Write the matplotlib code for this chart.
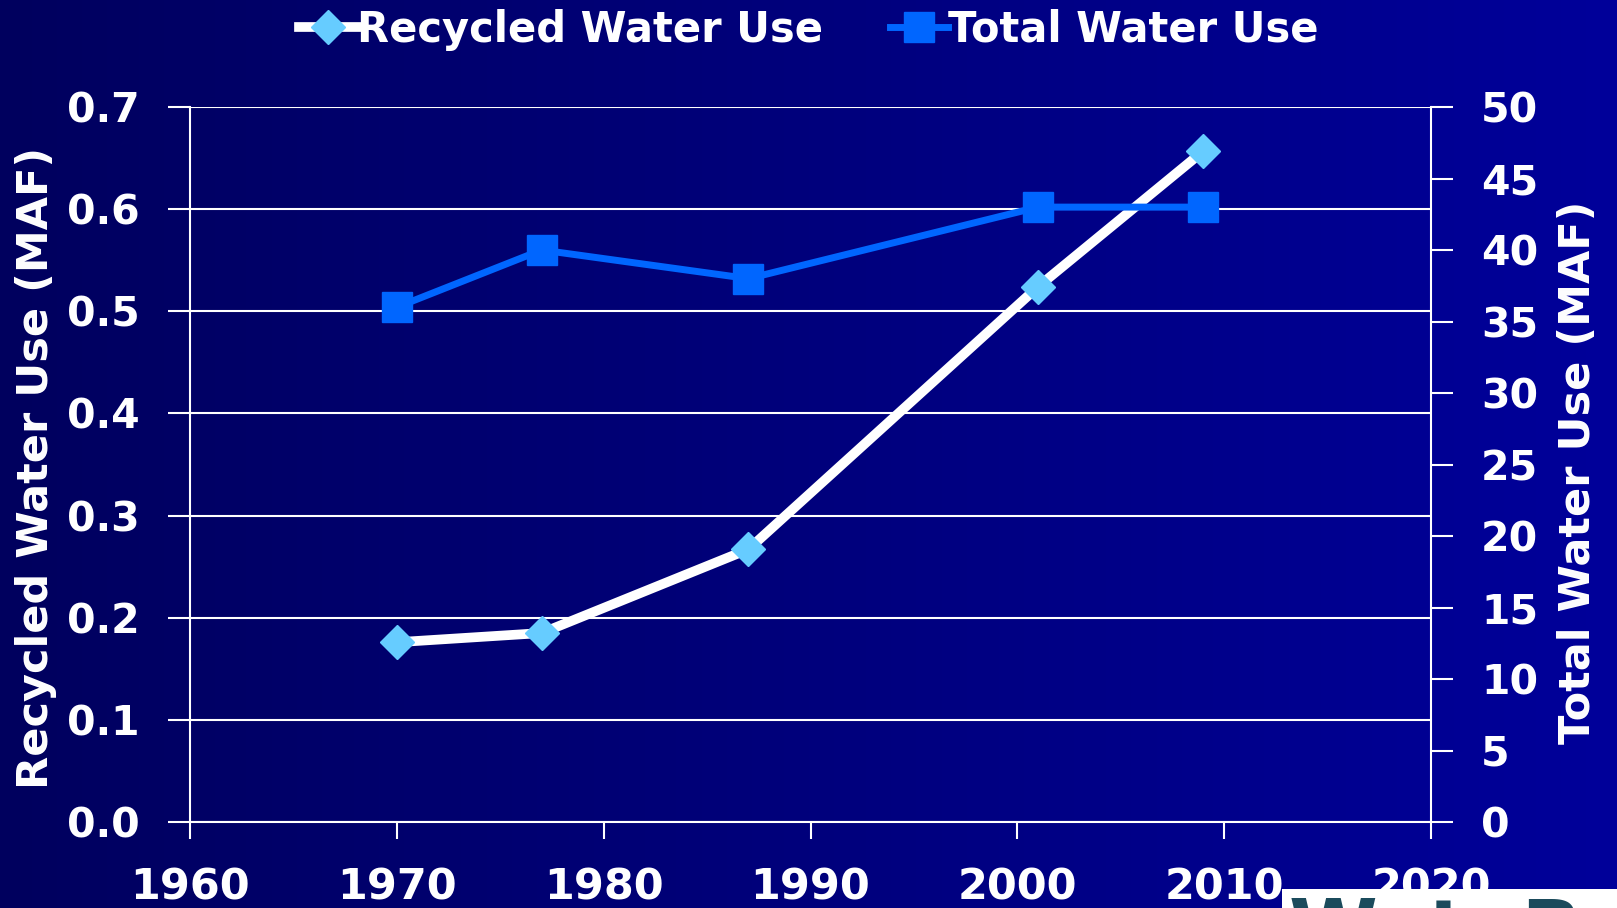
import numpy as np
import matplotlib
matplotlib.use("Agg")
import matplotlib.pyplot as plt
from matplotlib.patches import Rectangle

# data
years_rec = [1970, 1977, 1987, 2001, 2009]
recycled = [0.176, 0.185, 0.267, 0.524, 0.657]
years_tot = [1970, 1977, 1987, 2001, 2009]
total = [36.0, 40.0, 38.0, 43.0, 43.0]

xticks = [1960, 1970, 1980, 1990, 2000, 2010, 2020]
left_ticks = [0.0, 0.1, 0.2, 0.3, 0.4, 0.5, 0.6, 0.7]
right_ticks = [0, 5, 10, 15, 20, 25, 30, 35, 40, 45, 50]

W, H = 1617, 908
fig = plt.figure(figsize=(W / 100, H / 100), dpi=100)
fig.patch.set_facecolor("#000070")

# background gradient, dark navy on left to brighter blue on right
bg = fig.add_axes([0, 0, 1, 1], zorder=-10)
grad = np.linspace(0, 1, 256).reshape(1, -1)
c0 = np.array([0x00, 0x00, 0x5e]) / 255
c1 = np.array([0x00, 0x00, 0x9a]) / 255
img = c0[None, None, :] * (1 - grad[..., None]) + c1[None, None, :] * grad[..., None]
bg.imshow(img, aspect="auto", extent=[0, 1, 0, 1])
bg.axis("off")

white = "white"
ytickfont = dict(family="DejaVu Sans", weight="bold", size=29.5)
xtickfont = dict(family="DejaVu Sans", weight="bold", size=31)

ax = fig.add_axes([190 / W, 1 - 822 / H, (1431 - 190) / W, (822 - 107) / H])
ax.set_facecolor("none")
ax2 = ax.twinx()

l1, = ax.plot(years_rec, recycled, color="white", lw=7, marker="D", ms=17,
              mfc="#66ccff", mec="#66ccff", label="Recycled Water Use", zorder=3)
l2, = ax2.plot(years_tot, total, color="#0066ff", lw=5, marker="s", ms=21,
               mfc="#0066ff", mec="#0066ff", label="Total Water Use", zorder=4)

ax.set_xlim(1960, 2020)
ax.set_ylim(0, 0.7)
ax2.set_ylim(0, 50)
ax.set_xticks(xticks)
ax.set_yticks(left_ticks)
ax2.set_yticks(right_ticks)
ax.set_yticklabels([f"{v:.1f}" for v in left_ticks], fontdict=ytickfont)
ax2.set_yticklabels([str(v) for v in right_ticks], fontdict=ytickfont)
ax.set_xticklabels([str(v) for v in xticks], fontdict=xtickfont)

ax.grid(axis="y", color="white", lw=1.5)
ax.set_axisbelow(True)

for a in (ax, ax2):
    for s in a.spines.values():
        s.set_visible(False)
for a, side in ((ax, "left"), (ax, "bottom"), (ax2, "right")):
    a.spines[side].set_visible(True)
    a.spines[side].set_color(white)
    a.spines[side].set_linewidth(1.5)

ax.tick_params(axis="y", colors=white, length=16, width=1.5, pad=20)
ax.tick_params(axis="x", colors=white, length=12, width=1.5, pad=20)
ax2.tick_params(axis="y", colors=white, length=16, width=1.5, pad=20)

labfont = dict(family="DejaVu Sans", weight="bold", size=31, color=white)
fig.text(36 / W, 1 - 468 / H, "Recycled Water Use (MAF)", rotation=90,
         ha="center", va="center", **labfont)
fig.text(1578 / W, 1 - 472 / H, "Total Water Use (MAF)", rotation=90,
         ha="center", va="center", **labfont)

leg = fig.legend(handles=[l1, l2], loc="center", bbox_to_anchor=(0.5, 1 - 30 / H),
                 ncol=2, frameon=False, handlelength=1.4, handletextpad=0.0,
                 columnspacing=1.6, prop=dict(family="DejaVu Sans", weight="bold", size=30))
for t in leg.get_texts():
    t.set_color(white)

# logo corner, mostly cut off
top = fig.add_axes([0, 0, 1, 1], zorder=20)
top.set_xlim(0, W)
top.set_ylim(H, 0)
top.axis("off")
rect = Rectangle((1282, 889), W - 1282, H - 889, facecolor="white", edgecolor="none")
top.add_patch(rect)
logo = top.text(1289, 957, "WateReuse", color="#1b4b5c", fontsize=58,
                fontweight="bold", family="DejaVu Sans", va="baseline", ha="left")
logo.set_clip_path(rect)

fig.savefig("out.png", dpi=100)
